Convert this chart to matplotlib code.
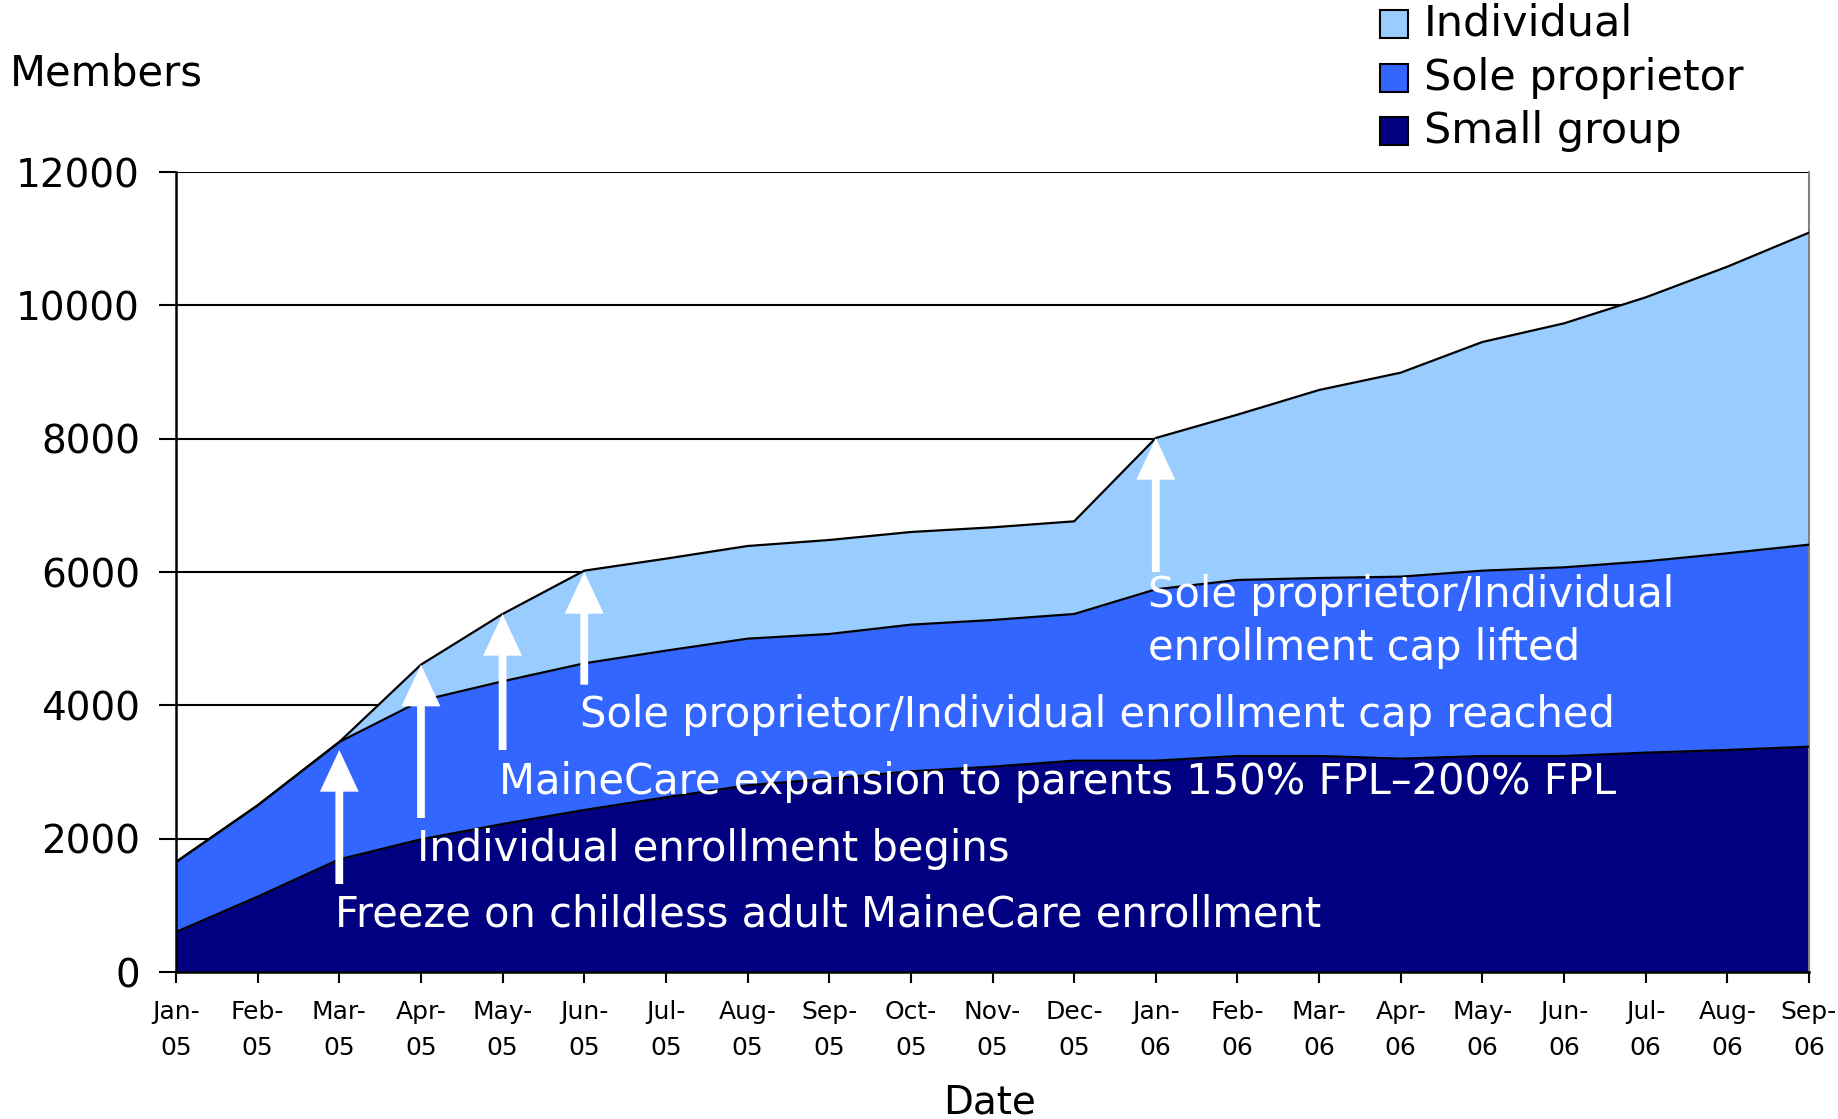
import matplotlib
matplotlib.use("Agg")
import matplotlib.pyplot as plt
import numpy as np

plt.rcParams['font.family'] = ['DejaVu Sans']

months = ["Jan-\n05", "Feb-\n05", "Mar-\n05", "Apr-\n05", "May-\n05", "Jun-\n05", "Jul-\n05",
          "Aug-\n05", "Sep-\n05", "Oct-\n05", "Nov-\n05", "Dec-\n05", "Jan-\n06", "Feb-\n06",
          "Mar-\n06", "Apr-\n06", "May-\n06", "Jun-\n06", "Jul-\n06", "Aug-\n06", "Sep-\n06"]

small_group = [600, 1130, 1690, 1990, 2220, 2430, 2620, 2800, 2900, 3010, 3080, 3170,
               3170, 3240, 3240, 3200, 3240, 3240, 3290, 3330, 3380]
sole_proprietor = [1050, 1370, 1760, 2080, 2140, 2200, 2200, 2200, 2170, 2200, 2200, 2200,
                   2570, 2640, 2670, 2730, 2780, 2830, 2870, 2950, 3030]
individual = [0, 0, 0, 540, 1010, 1390, 1380, 1390, 1410, 1390, 1390, 1390,
              2270, 2480, 2820, 3060, 3430, 3660, 3960, 4300, 4680]

yticks = [0, 2000, 4000, 6000, 8000, 10000, 12000]

# annotation events: (month index, arrow tail value, arrow tip value)
arrow_idx = [2, 3, 4, 5, 12]
arrow_tail = [1320, 2310, 3330, 4310, 6000]
arrow_tip = [3330, 4610, 5370, 6000, 8010]

notes = ["Freeze on childless adult MaineCare enrollment",
         "Individual enrollment begins",
         "MaineCare expansion to parents 150% FPL\u2013200% FPL",
         "Sole proprietor/Individual enrollment cap reached",
         "Sole proprietor/Individual\nenrollment cap lifted"]
note_x = [1.95, 2.95, 3.95, 4.95, 11.9]
note_y = [860, 1840, 2850, 3860, 5260]

colors = {"Individual": "#99CCFF", "Sole proprietor": "#3366FF", "Small group": "#000080"}

fig = plt.figure(figsize=(18.38, 11.19), dpi=100)
ax = fig.add_axes([176/1838, 1-972/1119, (1809-176)/1838, (972-172)/1119])

x = np.arange(len(months))
s = np.array(small_group, float)
sp = s + np.array(sole_proprietor, float)
tot = sp + np.array(individual, float)

ax.fill_between(x, 0, s, color=colors["Small group"], lw=0, zorder=2)
ax.fill_between(x, s, sp, color=colors["Sole proprietor"], lw=0, zorder=2)
ax.fill_between(x, sp, tot, color=colors["Individual"], lw=0, zorder=2)
for arr in (s, sp, tot):
    ax.plot(x, arr, color="black", lw=1.6, zorder=3, solid_joinstyle="miter")

ax.set_xlim(0, len(months) - 1)
ax.set_ylim(0, 12000)
ax.set_yticks(yticks)
ax.set_yticklabels([str(v) for v in yticks], fontsize=28)
ax.set_xticks(x)
ax.set_xticklabels(months, fontsize=18, family=['Liberation Sans Narrow', 'DejaVu Sans'],
                   linespacing=1.65)
ax.tick_params(axis='y', direction='out', length=12, width=1.5, pad=14)
ax.tick_params(axis='x', direction='out', length=8, width=1.5, pad=12)
for yv in yticks[1:]:
    ax.axhline(yv, color="black", lw=1.5, zorder=1)
ax.spines["top"].set_visible(False)
ax.spines["right"].set_color("#808080")
ax.spines["right"].set_linewidth(1.5)
ax.spines["left"].set_linewidth(1.8)
ax.spines["bottom"].set_linewidth(1.8)
ax.spines["left"].set_zorder(4)
ax.spines["bottom"].set_zorder(4)

for i, t0, t1 in zip(arrow_idx, arrow_tail, arrow_tip):
    ax.annotate("", xy=(x[i], t1), xytext=(x[i], t0),
                arrowprops=dict(arrowstyle="simple,head_width=1.4,head_length=1.5,tail_width=0.28",
                                color="white", lw=0, shrinkA=0, shrinkB=0, mutation_scale=20),
                zorder=5)

for nx, ny, txt in zip(note_x, note_y, notes):
    ax.text(nx, ny, txt, color="white", fontsize=30, ha="left", va="center",
            zorder=6, linespacing=1.35)

fig.text(10/1838, 1-73/1119, "Members", fontsize=30, ha="left", va="center")
fig.text(990/1838, 1-1102/1119, "Date", fontsize=28, ha="center", va="center")

# legend
labels = ["Individual", "Sole proprietor", "Small group"]
rows_y = [24, 78, 131]
for lab, ry in zip(labels, rows_y):
    fig.patches.append(plt.Rectangle((1380/1838, 1-(ry+14)/1119), 28/1838, 28/1119,
                                     transform=fig.transFigure, facecolor=colors[lab],
                                     edgecolor="black", lw=1.5))
    fig.text(1424/1838, 1-ry/1119, lab, fontsize=31, ha="left", va="center")

fig.savefig("out.png", dpi=100)
